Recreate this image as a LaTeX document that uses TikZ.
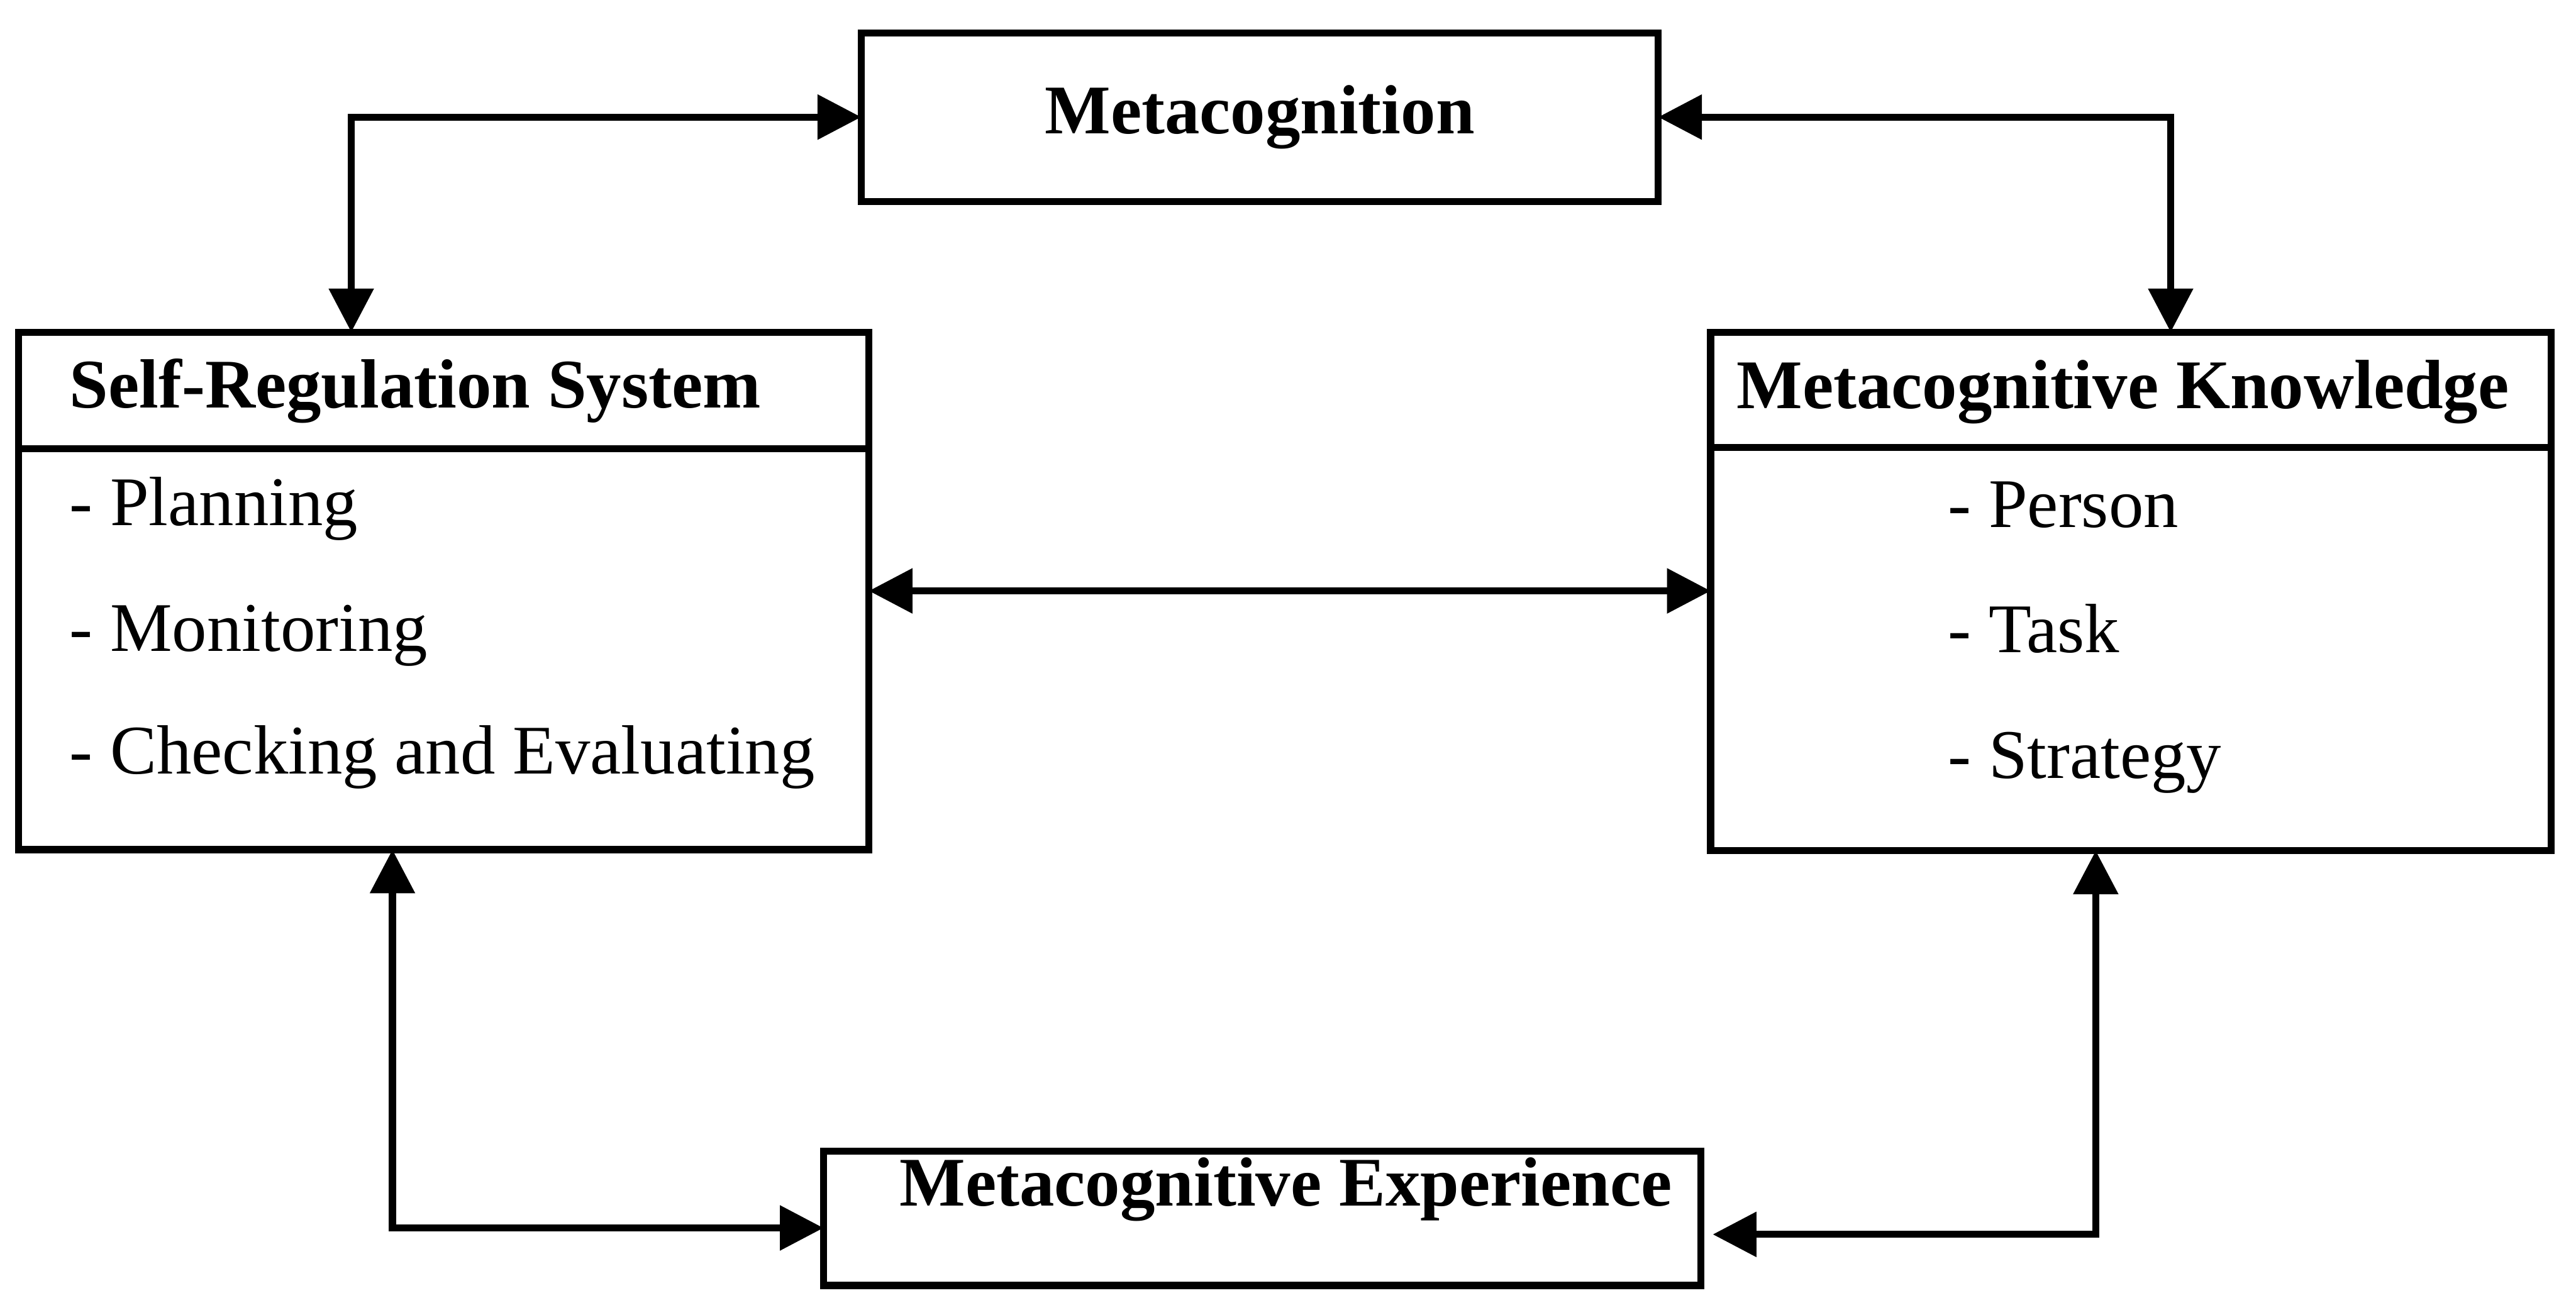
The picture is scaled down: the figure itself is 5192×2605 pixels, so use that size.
\documentclass[tikz,border=0pt]{standalone}
\usepackage{fontspec}
\setmainfont{Liberation Serif}
\usetikzlibrary{arrows.meta}
\begin{document}
\begin{tikzpicture}[x=0.005cm,y=-0.005cm,
  box/.style={draw, line width=2pt, rectangle, inner sep=0pt, outer sep=0pt},
  head/.style={font=\fontsize{20}{24}\selectfont\bfseries, inner sep=0pt, anchor=base west},
  item/.style={font=\fontsize{20}{24}\selectfont, inner sep=0pt, anchor=base west},
  conn/.style={line width=2pt, line join=miter, >={Triangle[length=0.44cm,width=0.44cm]}, <->},
  divline/.style={line width=2pt}]
\useasboundingbox (0,0) rectangle (5192,2605);

% boxes
\node[box, minimum width=8.04cm, minimum height=1.70cm, font=\fontsize{20}{24}\selectfont\bfseries] (meta) at (2539,236) {Metacognition};
\node[box, minimum width=8.575cm, minimum height=5.22cm] (srs) at (894.5,1191) {};
\node[box, minimum width=8.48cm, minimum height=5.23cm] (mk) at (4295,1192) {};
\node[box, minimum width=8.85cm, minimum height=1.355cm] (exp) at (2544,2455.5) {};

% dividers
\coordinate (d1) at (0,905);
\coordinate (d2) at (0,902);
\draw[divline] (srs.west |- d1) -- (srs.east |- d1);
\draw[divline] (mk.west |- d2) -- (mk.east |- d2);

% texts
\node[head] (srsh) at (139,822) {Self-Regulation System};
\node[item] (p1) at (139,1059) {- Planning};
\node[item] (p2) at (139,1312) {- Monitoring};
\node[item] (p3) at (139,1560) {- Checking and Evaluating};

\node[head] (mkh) at (3499,823) {Metacognitive Knowledge};
\node[item] (q1) at (3925,1063) {- Person};
\node[item] (q2) at (3925,1315) {- Task};
\node[item] (q3) at (3925,1568) {- Strategy};

\node[head] (exph) at (1812,2430) {Metacognitive Experience};

% connectors
\coordinate (k1) at (708,244);
\coordinate (k2) at (4375,245);
\coordinate (k3) at (791,2475);
\coordinate (k4) at (4224,2488);

\draw[conn] (meta.west) -| (k1 |- srs.north);
\draw[conn] (meta.east) -| (k2 |- mk.north);
\draw[conn] (srs.east) -- (mk.west |- srs.east);
\draw[conn] (k3 |- srs.south) |- (exp.west |- k3);
\draw[conn, shorten >=0.12cm] (k4 |- mk.south) |- (exp.east |- k4);
\end{tikzpicture}
\end{document}
